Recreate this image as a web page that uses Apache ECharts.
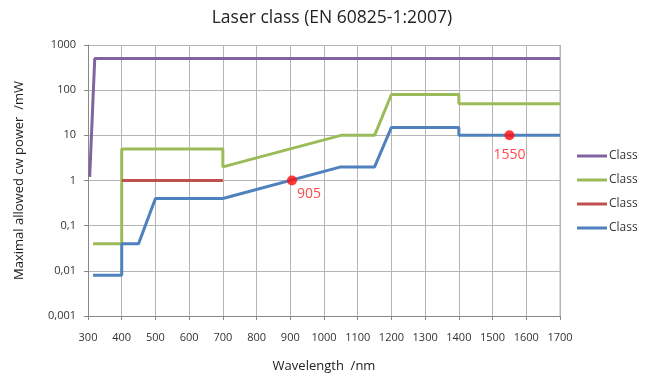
<!DOCTYPE html>
<html>
<head>
<meta charset="utf-8">
<script src="https://cdn.jsdelivr.net/npm/echarts@6/dist/echarts.min.js"></script>
<style>
  html, body { margin: 0; padding: 0; background: #fff; }
  #chart { width: 655px; height: 376px; }
</style>
</head>
<body>
<div id="chart"></div>
<script>
// Limit curves per laser class: wavelength (nm) and max cw power (mW)
const class3B_nm = [305, 320, 1700];
const class3B_mW = [1.2, 500, 500];

const class3R_nm = [315, 400, 400, 700, 700, 1050, 1150, 1200, 1400, 1400, 1700];
const class3R_mW = [0.04, 0.04, 5, 5, 2, 10, 10, 80, 80, 50, 50];

const class2_nm = [400, 700];
const class2_mW = [1, 1];

const class1_nm = [315, 400, 400, 450, 500, 700, 1050, 1150, 1200, 1400, 1400, 1700];
const class1_mW = [0.008, 0.008, 0.04, 0.04, 0.4, 0.4, 2, 2, 15, 15, 10, 10];

// Highlighted wavelengths on the Class 1 curve
const markedNm = [905, 1550];
const markedMW = [1, 10];

const yTicks = ['0,001', '0,01', '0,1', '1', '10', '100', '1000'];

const FONT = '"Open Sans", "Liberation Sans", sans-serif';
const pairs = (xs, ys) => xs.map((x, i) => [x, ys[i]]);

const lineSeries = (name, color, xs, ys) => ({
  name, type: 'line', data: pairs(xs, ys), symbol: 'none',
  lineStyle: { color, width: 3 }, itemStyle: { color },
  z: 3
});

const chart = echarts.init(document.getElementById('chart'), null, { renderer: 'canvas' });
chart.setOption({
  animation: false,
  backgroundColor: '#ffffff',
  title: {
    text: 'Laser class (EN 60825-1:2007)',
    left: 327, top: 4, textAlign: 'center',
    textStyle: { fontFamily: FONT, fontSize: 17.5, fontWeight: 'normal', color: '#222' }
  },
  grid: { left: 88, right: 95, top: 45, bottom: 60, containLabel: false, outerBoundsMode: 'none' },
  legend: {
    orient: 'vertical', left: 577, top: 148, padding: 0,
    itemWidth: 30, itemHeight: 3, itemGap: 8, icon: 'rect',
    data: ['Class 3B', 'Class 3R', 'Class 2', 'Class 1'],
    formatter: () => 'Class',
    textStyle: { fontFamily: FONT, fontSize: 12, color: '#333', lineHeight: 16, padding: [0, 0, 0, -3] }
  },
  xAxis: {
    type: 'value', min: 300, max: 1700, interval: 100,
    name: 'Wavelength  /nm', nameLocation: 'middle', nameGap: 44,
    nameTextStyle: { fontFamily: FONT, fontSize: 13, color: '#222' },
    axisLine: { show: true, lineStyle: { color: '#888' } },
    axisTick: { show: true, length: 4, lineStyle: { color: '#888' } },
    axisLabel: { fontFamily: FONT, fontSize: 11, color: '#333', margin: 16, formatter: v => String(v) },
    splitLine: { show: true, lineStyle: { color: '#b5b5b5', width: 1 } }
  },
  yAxis: {
    type: 'log', logBase: 10, min: 0.001, max: 1000,
    name: 'Maximal allowed cw power  /mW', nameLocation: 'middle', nameGap: 62,
    nameTextStyle: { fontFamily: FONT, fontSize: 13, color: '#222' },
    axisLine: { show: true, lineStyle: { color: '#888' } },
    axisTick: { show: true, length: 4, lineStyle: { color: '#888' } },
    axisLabel: {
      fontFamily: FONT, fontSize: 11, color: '#333', margin: 12,
      formatter: v => yTicks[Math.round(Math.log10(v)) + 3] || ''
    },
    splitLine: { show: true, lineStyle: { color: '#b5b5b5', width: 1 } }
  },
  series: [
    lineSeries('Class 3B', '#8064A2', class3B_nm, class3B_mW),
    lineSeries('Class 3R', '#9BBB59', class3R_nm, class3R_mW),
    lineSeries('Class 2', '#C0504D', class2_nm, class2_mW),
    lineSeries('Class 1', '#4F81BD', class1_nm, class1_mW),
    {
      name: 'marked', type: 'scatter', symbol: 'circle', symbolSize: 10,
      itemStyle: { color: '#ff0d0d' }, z: 5,
      data: [
        { value: [markedNm[0], markedMW[0]], label: { offset: [17, 14] } },
        { value: [markedNm[1], markedMW[1]], label: { offset: [0, 20] } }
      ],
      label: {
        show: true, position: 'inside', color: '#ff1a1a',
        fontFamily: FONT, fontSize: 14,
        formatter: p => String(p.value[0])
      }
    },
    // right border of the plot area
    {
      name: 'frame', type: 'line', symbol: 'none', silent: true,
      data: [[1700, 0.001], [1700, 1000]],
      lineStyle: { color: '#b5b5b5', width: 1 }, z: 1
    }
  ]
});
</script>
</body>
</html>
